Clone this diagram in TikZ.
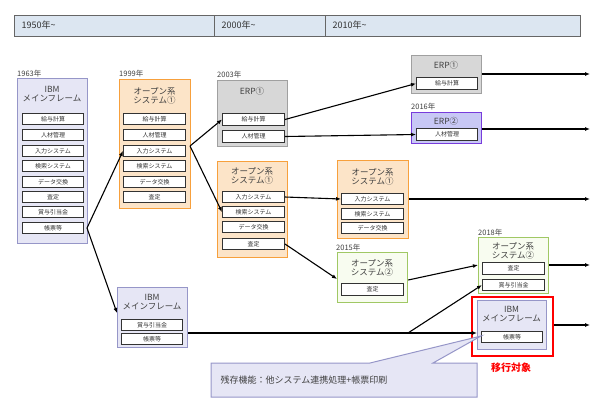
\documentclass[tikz,border=0pt]{standalone}
\usepackage{fontspec}
\setmainfont{Noto Sans CJK JP}
\usetikzlibrary{arrows.meta}
\definecolor{hdr}{RGB}{220,230,241}
\definecolor{ibmf}{RGB}{230,230,245}
\definecolor{ibmd}{RGB}{150,150,200}
\definecolor{orf}{RGB}{252,228,200}
\definecolor{ord}{RGB}{247,160,60}
\definecolor{grf}{RGB}{215,215,215}
\definecolor{grd}{RGB}{160,160,160}
\definecolor{gnf}{RGB}{248,252,240}
\definecolor{gnd}{RGB}{160,200,100}
\definecolor{erp2f}{RGB}{200,200,245}
\definecolor{erp2d}{RGB}{120,60,220}
\begin{document}
\begin{tikzpicture}[x=1pt,y=-1pt,
  box/.style={draw, line width=1.2pt, anchor=north west, inner sep=0pt},
  item/.style={draw=black!80, line width=1pt, fill=white, anchor=north west, inner sep=0pt, font=\fontsize{6}{6.5}\selectfont, text=black!80},
  ttl/.style={font=\fontsize{8.5}{9.5}\selectfont, align=center, text=black!75, inner sep=0pt},
  yr/.style={font=\fontsize{7.5}{7.5}\selectfont, anchor=south west, inner sep=0pt, text=black!75},
  hdt/.style={anchor=west, font=\fontsize{9}{9}\selectfont, text=black!80},
  arr/.style={line width=1.1pt, -{Latex[length=5pt,width=4pt]}}]
\useasboundingbox (0,0) rectangle (600,416);
% header
\node[draw=black!60, fill=hdr, line width=0.8pt, anchor=north west, minimum width=566pt, minimum height=21pt, inner sep=0pt] (hd) at (14,15) {};
\draw[black!60, line width=0.8pt] (214,15) -- (214,36) (325,15) -- (325,36);
\node[hdt] (h1) at (18,25.5) {1950年\textasciitilde};
\node[hdt] (h2) at (218,25.5) {2000年\textasciitilde};
\node[hdt] (h3) at (329,25.5) {2010年\textasciitilde};
% IBM 1963
\node[yr] (y1963) at (17,77) {1963年};
\node[box, draw=ibmd, fill=ibmf, minimum width=70pt, minimum height=165pt] (ibm1) at (17,78) {};
\node[ttl] (ibm1t) at (52,94) {IBM\\メインフレーム};
\node[item, minimum width=61pt, minimum height=11pt] (a1) at (22,113) {給与計算};
\node[item, minimum width=61pt, minimum height=11pt] (a2) at (22,129) {人材管理};
\node[item, minimum width=61pt, minimum height=11pt] (a3) at (22,145) {入力システム};
\node[item, minimum width=61pt, minimum height=11pt] (a4) at (22,160) {検索システム};
\node[item, minimum width=61pt, minimum height=11pt] (a5) at (22,176) {データ交換};
\node[item, minimum width=61pt, minimum height=11pt] (a6) at (22,191) {査定};
\node[item, minimum width=61pt, minimum height=11pt] (a7) at (22,206) {賞与引当金};
\node[item, minimum width=61pt, minimum height=11pt] (a8) at (22,222) {帳票等};
% Open 1999
\node[yr] (y1999) at (119,77) {1999年};
\node[box, draw=ord, fill=orf, minimum width=71pt, minimum height=129pt] (op1) at (119,79) {};
\node[ttl] (op1t) at (154.5,96) {オープン系\\システム①};
\node[item, minimum width=62pt, minimum height=11pt] (b1) at (123,113) {給与計算};
\node[item, minimum width=62pt, minimum height=11pt] (b2) at (123,129) {人材管理};
\node[item, minimum width=62pt, minimum height=11pt] (b3) at (123,145) {入力システム};
\node[item, minimum width=62pt, minimum height=11pt] (b4) at (123,160) {検索システム};
\node[item, minimum width=62pt, minimum height=11pt] (b5) at (123,176) {データ交換};
\node[item, minimum width=62pt, minimum height=11pt] (b6) at (123,191) {査定};
% ERP1 2003
\node[yr] (y2003) at (217,78) {2003年};
\node[box, draw=grd, fill=grf, minimum width=70pt, minimum height=66pt] (erp1) at (217,80) {};
\node[ttl] (erp1t) at (252,91) {ERP①};
\node[item, minimum width=62pt, minimum height=12pt] (c1) at (222,113) {給与計算};
\node[item, minimum width=62pt, minimum height=12pt] (c2) at (222,130) {人材管理};
% Open1 2003
\node[box, draw=ord, fill=orf, minimum width=70pt, minimum height=96pt] (op2) at (217,161) {};
\node[ttl] (op2t) at (252,176) {オープン系\\システム①};
\node[item, minimum width=62pt, minimum height=11pt] (d1) at (222,191) {入力システム};
\node[item, minimum width=62pt, minimum height=11pt] (d2) at (222,206) {検索システム};
\node[item, minimum width=62pt, minimum height=11pt] (d3) at (222,221) {データ交換};
\node[item, minimum width=62pt, minimum height=11pt] (d4) at (222,238) {査定};
% ERP1 top right
\node[box, draw=grd, fill=grf, minimum width=70pt, minimum height=38pt] (erp3) at (411,55) {};
\node[ttl] (erp3t) at (446,65) {ERP①};
\node[item, minimum width=61pt, minimum height=12pt] (e1) at (416,77) {給与計算};
% ERP2 2016
\node[yr] (y2016) at (411,110) {2016年};
\node[box, draw=erp2d, fill=erp2f, minimum width=70pt, minimum height=31pt] (erp2) at (411,112) {};
\node[ttl] (erp2t) at (446,121) {ERP②};
\node[item, minimum width=61pt, minimum height=12pt] (f1) at (416,128) {人材管理};
% Open1 mid
\node[box, draw=ord, fill=orf, minimum width=71pt, minimum height=78pt] (op3) at (337,160) {};
\node[ttl] (op3t) at (372.5,177) {オープン系\\システム①};
\node[item, minimum width=62pt, minimum height=11pt] (g1) at (341,193) {入力システム};
\node[item, minimum width=62pt, minimum height=11pt] (g2) at (341,208) {検索システム};
\node[item, minimum width=62pt, minimum height=11pt] (g3) at (341,222) {データ交換};
% Open2 2015
\node[yr] (y2015) at (336,251) {2015年};
\node[box, draw=gnd, fill=gnf, minimum width=70pt, minimum height=50pt] (op4) at (337,252) {};
\node[ttl] (op4t) at (372,268) {オープン系\\システム②};
\node[item, minimum width=62pt, minimum height=12pt] (h1i) at (341,283) {査定};
% Open2 2018
\node[yr] (y2018) at (478,236) {2018年};
\node[box, draw=gnd, fill=gnf, minimum width=70pt, minimum height=56pt] (op5) at (478,237) {};
\node[ttl] (op5t) at (513,251) {オープン系\\システム②};
\node[item, minimum width=62pt, minimum height=12pt] (i1) at (482,262) {査定};
\node[item, minimum width=62pt, minimum height=11pt] (i2) at (482,279) {賞与引当金};
% IBM2
\node[box, draw=ibmd, fill=ibmf, minimum width=70pt, minimum height=60pt] (ibm2) at (117,287) {};
\node[ttl] (ibm2t) at (152,302) {IBM\\メインフレーム};
\node[item, minimum width=61pt, minimum height=11pt] (j1) at (121,319) {賞与引当金};
\node[item, minimum width=61pt, minimum height=11pt] (j2) at (121,333) {帳票等};
% IBM3 red
\node[draw=red, line width=2pt, anchor=north west, minimum width=81pt, minimum height=59pt, inner sep=0pt] (red) at (471,296) {};
\node[box, draw=ibmd, fill=ibmf, minimum width=69pt, minimum height=49pt] (ibm3) at (477,300) {};
\node[ttl] (ibm3t) at (511.5,314) {IBM\\メインフレーム};
\node[item, minimum width=61pt, minimum height=11pt] (k1) at (481,331) {帳票等};
\node[text=red, font=\bfseries\fontsize{10}{10}\selectfont, inner sep=0pt] (iko) at (511,368) {移行対象};
% callout
\draw[ibmd, line width=1pt, fill=ibmf] (211,363) -- (370,363) -- (481,336) -- (433,363) -- (477,363) -- (477,397) -- (211,397) -- cycle;
\node[anchor=west, font=\fontsize{9}{9}\selectfont, text=black!75] (co) at (217,380) {残存機能：他システム連携処理+帳票印刷};
% arrows
\coordinate (s1) at (87,228);
\draw[arr] (s1) -- (b3.west);
\draw[arr] (s1) -- (ibm2.west |- 0,313);
\coordinate (s2) at (190,146);
\draw[arr] (s2) -- (c1.west);
\draw[arr] (s2) -- (d2.west);
\draw[arr] (c1.east) -- (e1.west);
\draw[arr] (c2.east) -- (f1.west);
\coordinate (t1) at (590,74);
\coordinate (t2) at (590,129);
\coordinate (t3) at (590,199);
\coordinate (t4) at (590,265);
\coordinate (t5) at (590,325);
\draw[arr] (erp3.east |- t1) -- (t1);
\draw[arr] (erp2.east |- t2) -- (t2);
\draw[arr] (d1.east) -- (g1.west);
\draw[arr] (op3.east |- t3) -- (t3);
\draw[arr] (d4.east) -- (op4.west |- 0,279);
\draw[arr] (op4.east |- 0,280) -- (op5.west |- 0,265);
\draw[arr] (op5.east |- t4) -- (t4);
\coordinate (br) at (408,333);
\draw[arr] (ibm2.east |- br) -- (ibm3.west |- br);
\draw[arr] (br) -- (i2.west);
\draw[arr] (red.east |- t5) -- (t5);
\end{tikzpicture}
\end{document}
